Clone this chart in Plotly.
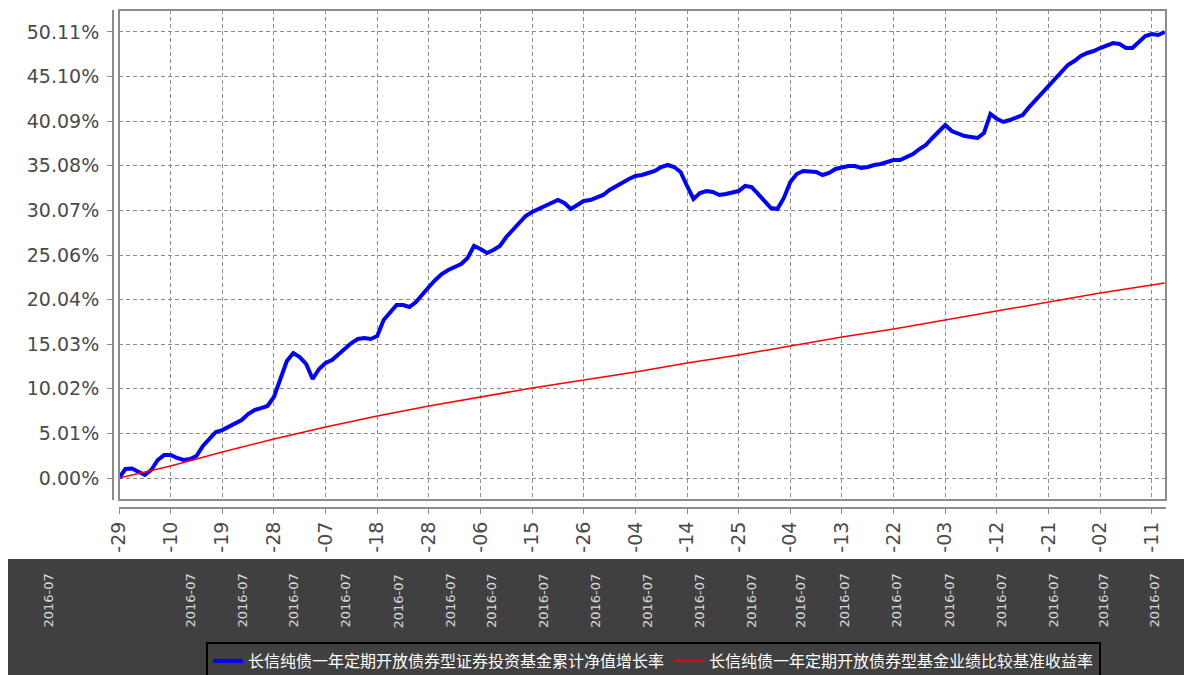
import plotly.graph_objects as go

# ---------------- data ----------------
tick_labels = ["-29", "-10", "-19", "-28", "-07", "-18", "-28", "-06", "-15", "-26", "-04",
               "-14", "-25", "-04", "-13", "-22", "-03", "-12", "-21", "-02", "-11"]
obs_per_tick = 8

y_tick_values = [0, 5.011, 10.022, 15.033, 20.044, 25.055, 30.066, 35.077, 40.088, 45.099, 50.11]
y_tick_labels = ["0.00%", "5.01%", "10.02%", "15.03%", "20.04%", "25.06%",
                 "30.07%", "35.08%", "40.09%", "45.10%", "50.11%"]

fund_name = "长信纯债一年定期开放债券型证券投资基金累计净值增长率"
bench_name = "长信纯债一年定期开放债券型基金业绩比较基准收益率"

fund_values = [
    0.00, 1.01, 1.07, 0.67, 0.34, 0.90, 2.02, 2.58, 2.58, 2.25,
    2.02, 2.13, 2.47, 3.60, 4.38, 5.17, 5.39, 5.73, 6.07, 6.52,
    7.19, 7.64, 7.86, 8.09, 9.10, 11.24, 13.14, 14.04, 13.59, 12.81,
    11.12, 12.25, 12.92, 13.26, 13.93, 14.61, 15.17, 15.62, 15.73, 15.62,
    15.95, 17.75, 18.65, 19.44, 19.44, 19.21, 19.77, 20.67, 21.46, 22.25,
    22.92, 23.37, 23.71, 24.04, 24.72, 26.07, 25.73, 25.28, 25.62, 26.07,
    27.08, 27.86, 28.65, 29.44, 29.89, 30.22, 30.45, 30.78, 31.23, 30.90,
    30.22, 30.67, 31.12, 31.23, 31.46, 31.80, 32.36, 32.81, 33.14, 33.59,
    33.93, 34.04, 34.27, 34.49, 34.94, 35.17, 34.94, 34.38, 32.81, 31.35,
    32.02, 32.24, 32.13, 31.80, 31.91, 32.13, 32.24, 32.81, 32.69, 31.91,
    31.12, 30.33, 30.22, 31.46, 33.26, 34.15, 34.49, 34.49, 34.38, 34.04,
    34.27, 34.72, 34.94, 35.05, 35.05, 34.83, 34.94, 35.17, 35.28, 35.50,
    35.73, 35.73, 36.06, 36.40, 36.96, 37.41, 38.20, 38.98, 39.66, 38.98,
    38.65, 38.42, 38.31, 38.20, 38.76, 40.90, 40.35, 40.00, 40.22, 40.45,
    40.78, 41.68, 42.47, 43.25, 44.15, 44.94, 45.73, 46.40, 46.85, 47.41,
    47.75, 47.97, 48.31, 48.65, 48.87, 48.76, 48.31, 48.31, 48.98, 49.66,
    49.88, 49.77, 50.11,
]

bench_days = [0, 8, 16, 24, 32, 40, 48, 56, 64, 72, 80, 88, 96, 104, 112, 120,
              128, 136, 144, 152, 160, 162]
bench_values = [0.00, 1.35, 2.92, 4.38, 5.73, 6.97, 8.09, 9.10, 10.11, 11.01, 11.91,
                12.92, 13.82, 14.83, 15.84, 16.74, 17.75, 18.76, 19.77, 20.78, 21.68, 21.91]

# garbled rotated date fragments in the dark footer
footer_text = "2016-07"

# ---------------- figure ----------------
# The page body has an 8px default margin, so the figure origin sits at (8, 8)
# on screen; all screen-pixel layout positions are converted with that offset.
OFF = 8
W, H = 1192, 675
ML = 113 - OFF             # y-axis line at screen x = 113
MT = 10 - OFF              # plot top at screen y = 10
PLOT_RIGHT = 1166 - OFF
AXIS_BOTTOM = 508 - OFF    # x-axis line at screen y = 508
MR = W - PLOT_RIGHT
MB = H - AXIS_BOTTOM
PW, PH = W - ML - MR, H - MT - MB


def px_x(px):
    return (px - OFF - ML) / PW


def px_y(py):
    return (AXIS_BOTTOM - (py - OFF)) / PH


fig = go.Figure()
fig.add_trace(go.Scatter(
    x=list(range(len(fund_values))), y=fund_values, mode="lines",
    line=dict(color="#0000FF", width=4), name=fund_name))
fig.add_trace(go.Scatter(
    x=bench_days, y=bench_values, mode="lines",
    line=dict(color="#FF0000", width=1.5), name=bench_name))

tick_font = dict(family="DejaVu Sans", size=19, color="#4a4a4a")
grid = dict(showgrid=True, gridcolor="#8c8c8c", gridwidth=1, griddash="4px,3px")

fig.update_layout(
    width=W, height=H,
    margin=dict(l=ML, r=MR, t=MT, b=MB, autoexpand=False),
    paper_bgcolor="white", plot_bgcolor="white",
    xaxis=dict(
        domain=[px_x(119), 1], range=[0, 162.2], anchor="free", position=0,
        automargin=False,
        tickmode="array",
        tickvals=[i * obs_per_tick for i in range(len(tick_labels))],
        ticktext=tick_labels, tickangle=-90, tickfont=tick_font,
        ticks="outside", ticklen=5, tickcolor="#8c8c8c",
        showline=True, linecolor="#8c8c8c", linewidth=2, zeroline=False, **grid),
    yaxis=dict(
        domain=[px_y(500), 1], range=[-2.47, 52.58], anchor="free", position=0,
        automargin=False,
        tickmode="array", tickvals=y_tick_values, ticktext=y_tick_labels,
        tickfont=tick_font, ticks="outside", ticklen=5, tickcolor="#8c8c8c",
        ticklabelstandoff=4,
        showline=True, linecolor="#8c8c8c", linewidth=2, zeroline=False, **grid),
    legend=dict(
        orientation="h", x=px_x(206), y=px_y(642), xanchor="left", yanchor="top",
        bgcolor="#404040", bordercolor="#000000", borderwidth=2,
        font=dict(family="Noto Sans CJK SC", size=16, color="white")),
    showlegend=True,
)

# plot frame
fig.add_shape(type="rect", xref="x domain", yref="y domain", x0=0, x1=1, y0=0, y1=1,
              line=dict(color="#8c8c8c", width=2), layer="above")
# dark footer band
fig.add_shape(type="rect", xref="paper", yref="paper",
              x0=px_x(5), x1=px_x(1187), y0=px_y(683), y1=px_y(559),
              fillcolor="#404040", line=dict(width=0), layer="below")

footer_cols = [38, 180, 232, 283, 335, 388, 440, 491, 543, 595, 647, 699, 751, 800,
               853, 905, 958, 1010, 1062, 1112, 1163]
for cx in footer_cols:
    fig.add_annotation(x=px_x(cx), y=px_y(630), xref="paper", yref="paper",
                       text=footer_text, textangle=-90, showarrow=False,
                       font=dict(family="DejaVu Sans", size=13, color="#d8d8d8"))

fig.write_html("out.html")
